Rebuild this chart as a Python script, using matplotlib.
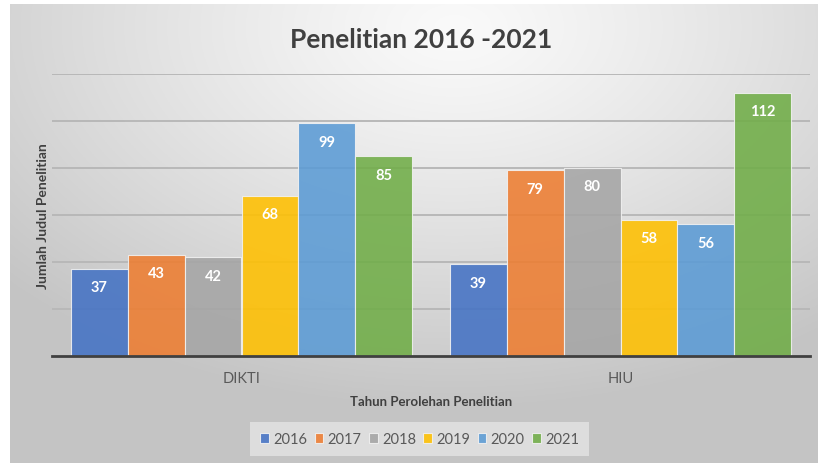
import numpy as np
import matplotlib
matplotlib.use("Agg")
import matplotlib.pyplot as plt

categories = ["DIKTI", "HIU"]
years = ["2016", "2017", "2018", "2019", "2020", "2021"]
values = {
    "2016": [37, 39],
    "2017": [43, 79],
    "2018": [42, 80],
    "2019": [68, 58],
    "2020": [99, 56],
    "2021": [85, 112],
}
colors = ["#4472C4", "#ED7D31", "#A5A5A5", "#FFC000", "#5B9BD5", "#70AD47"]

plt.rcParams["font.family"] = ["Lato", "DejaVu Sans"]

W, H = 818, 464
fig = plt.figure(figsize=(W / 100, H / 100), dpi=100)
fig.patch.set_facecolor("white")

# radial gray background like the Excel chart area
bg = fig.add_axes([10 / W, 0, (W - 10) / W, (H - 5) / H], zorder=-5)
yy, xx = np.mgrid[0:1:300j, 0:1:500j]
r = np.sqrt(((xx - 0.55) * 1.0) ** 2 + ((yy - 0.05) * 0.9) ** 2)
r = np.clip(r / 0.75, 0, 1)
shade = 0.98 - 0.21 * r ** 1.2
bg.imshow(np.dstack([shade] * 3), aspect="auto", extent=[0, 1, 1, 0])
bg.axis("off")

ax = fig.add_axes([52 / W, 1 - 357 / H, (810 - 52) / W, (357 - 75) / H])
ax.set_facecolor("none")

x = np.arange(len(categories))
n = len(years)
width = 0.9 / n
for i, (yr, col) in enumerate(zip(years, colors)):
    pos = x - 0.45 + width * (i + 0.5)
    bars = ax.bar(pos, values[yr], width, color=col, alpha=0.88,
                  edgecolor="#f2f2f2", linewidth=0.8, label=yr, zorder=3)
    for b, v in zip(bars, values[yr]):
        ax.text(b.get_x() + b.get_width() / 2, v - 4.8, str(v), ha="center",
                va="top", color="white", fontsize=10.5, fontweight="bold", zorder=4)

ax.set_xlim(-0.5, 1.5)
ax.set_ylim(0, 120)
ax.set_yticks(np.arange(20, 121, 20))
ax.yaxis.grid(True, color="#b8b8b8", linewidth=1.4, zorder=0)
ax.tick_params(axis="y", length=0, labelleft=False)
ax.set_xticks(x)
ax.set_xticklabels(categories, fontsize=10.5, color="#595959")
ax.tick_params(axis="x", length=0, pad=11)
for s in ["top", "right", "left"]:
    ax.spines[s].set_visible(False)
ax.spines["bottom"].set_color("#404040")
ax.spines["bottom"].set_linewidth(2)
ax.spines["bottom"].set_zorder(5)

ax.set_xlabel("Tahun Perolehan Penelitian", fontsize=9.5, fontweight="bold",
              color="#404040", labelpad=7)
ax.set_ylabel("Jumlah Judul Penelitian", fontsize=10, fontweight="bold",
              color="#404040", labelpad=2)
fig.text(0.515, 1 - 40 / H, "Penelitian 2016 -2021", ha="center", va="center",
         fontsize=19, fontweight="bold", color="#404040")

leg = ax.legend(loc="center", bbox_to_anchor=(0.485, -0.295), ncol=6,
                frameon=True, fontsize=10.5, handlelength=0.6, handleheight=0.6,
                handletextpad=0.3, columnspacing=0.5, borderpad=0.5)
leg.get_frame().set_facecolor("#e4e4e4")
leg.get_frame().set_edgecolor("none")
leg.get_frame().set_boxstyle("square", pad=0.2)
for t in leg.get_texts():
    t.set_color("#595959")

fig.savefig("out.png", dpi=100)
